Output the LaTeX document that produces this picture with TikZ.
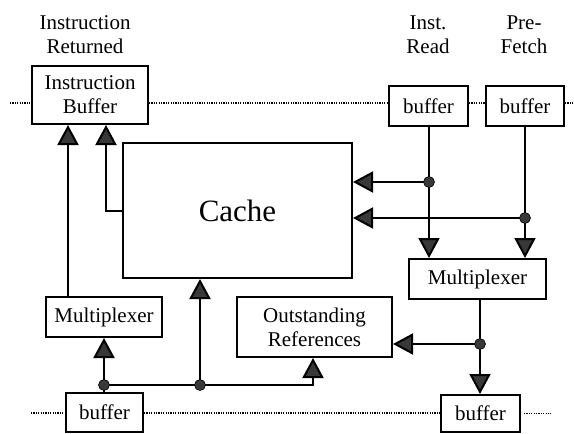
\documentclass[tikz,border=0pt]{standalone}
\usepackage{fontspec}
\setmainfont{Liberation Serif}
\usetikzlibrary{arrows.meta}

\begin{document}
\begin{tikzpicture}[x=1pt,y=-1pt,
  txt/.style={font=\fontsize{21}{24}\selectfont, align=center},
  box/.style={txt, draw, line width=2pt, fill=white, inner sep=0pt},
  conn/.style={line width=2pt},
  arr/.style={conn, -{Triangle[length=20pt,width=21pt,fill=black!78]}},
  dotline/.style={line width=1.4pt, dash pattern=on 1.1pt off 1.3pt},
  junction/.style={fill=black!78, draw=black, line width=0.6pt},
]
\useasboundingbox (0,0) rectangle (574,434);

% boxes
\node[box, minimum width=116pt, minimum height=58pt] (ib) at (90,95) {Instruction\\Buffer};
\node[box, minimum width=229pt, minimum height=135pt,
      font=\fontsize{31}{36}\selectfont] (cache) at (237.5,210.5) {Cache};
\node[box, minimum width=79pt, minimum height=40pt] (irb) at (428.5,106) {buffer};
\node[box, minimum width=78pt, minimum height=40pt] (pfb) at (525,106) {buffer};
\node[box, minimum width=137pt, minimum height=40pt] (rmux) at (477.5,279) {Multiplexer};
\node[box, minimum width=155pt, minimum height=60pt] (oref) at (314.5,327) {Outstanding\\References};
\node[box, minimum width=116pt, minimum height=40pt] (lmux) at (104,317) {Multiplexer};
\node[box, minimum width=77pt, minimum height=39pt] (lbuf) at (104.5,412.5) {buffer};
\node[box, minimum width=79pt, minimum height=37pt] (rbuf) at (480.5,413.5) {buffer};

% labels above the top buffers
\node[txt] (ret) at (85,35) {Instruction\\Returned};
\node[txt] (ird) at (428,35) {Inst.\\Read};
\node[txt] (pf) at (524,35) {Pre-\\Fetch};

% dotted buses
\coordinate (tl) at (10,103);
\coordinate (tr) at (574,103);
\draw[dotline] (tl) -- (tl -| ib.west);
\draw[dotline] (tl -| ib.east) -- (tl -| irb.west);
\draw[dotline] (tl -| irb.east) -- (tl -| pfb.west);
\draw[dotline] (tl -| pfb.east) -- (tr);
\coordinate (bl) at (31,413);
\draw[dotline] (bl) -- (bl -| lbuf.west);
\draw[dotline] (bl -| lbuf.east) -- (bl -| rbuf.west);
\draw[dotline] (rbuf.east) ++(3,0) -- ++(27,0);

% junction points
\coordinate (j1) at (429,182);
\coordinate (j2) at (525,218);
\coordinate (j3) at (480,344);
\coordinate (j4) at (104,385);
\coordinate (j5) at (200,385);

% into the instruction buffer
\draw[arr] ([xshift=-36pt]lmux.north) -- ([xshift=-36pt]lmux.north |- ib.south);
\draw[arr] (cache.west) -| ([xshift=16pt]ib.south);

% read and prefetch paths
\draw[arr] (irb.south -| j1) -- (j1 |- rmux.north);
\draw[arr] (j1) -- (j1 -| cache.east);
\draw[arr] (pfb.south -| j2) -- (j2 |- rmux.north);
\draw[arr] (j2) -- (j2 -| cache.east);

% multiplexer output
\draw[arr] (rmux.south -| j3) -- (j3 |- rbuf.north);
\draw[arr] (j3) -- (j3 -| oref.east);

% returned data path
\draw[arr] (lbuf.north -| j4) -- (j4 |- lmux.south);
\draw[arr] (j4) -| ([xshift=-1.5pt]oref.south);
\draw[arr] (j5) -- (j5 |- cache.south);

% junction dots
\foreach \j in {j1,j2,j3,j4,j5}
  \filldraw[junction] (\j) circle (5.5pt);
\end{tikzpicture}
\end{document}
